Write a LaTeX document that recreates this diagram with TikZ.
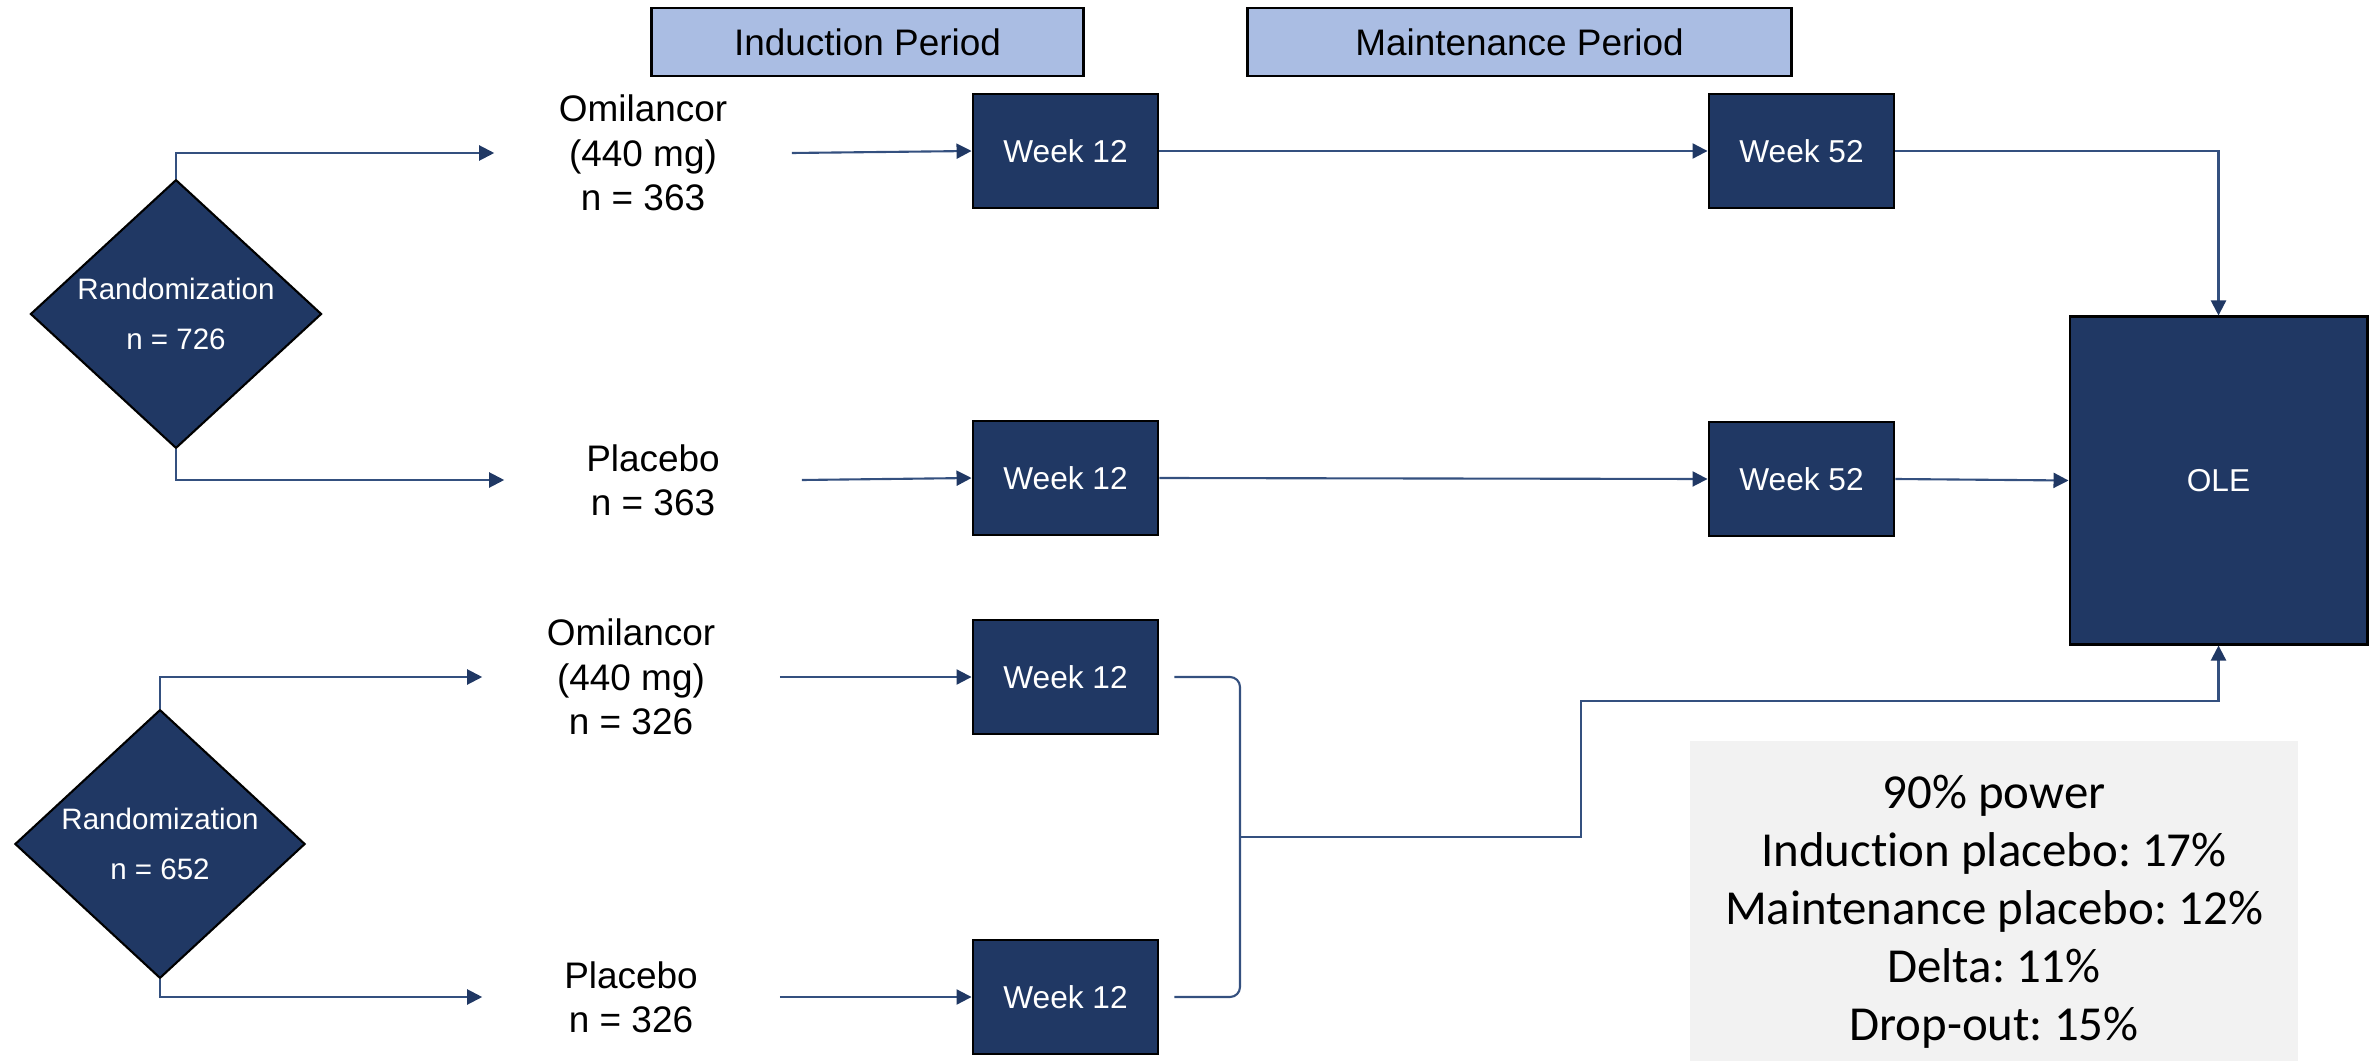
\documentclass[tikz,border=0pt]{standalone}
\usepackage{fontspec}
\setmainfont{Liberation Sans}
\newfontfamily\notefont[Ligatures=NoCommon]{Carlito}
\usepackage{xcolor}
\definecolor{vizNavy}{HTML}{203864}
\definecolor{vizPeriod}{HTML}{AABDE3}
\definecolor{vizLine}{HTML}{34507F}
\definecolor{vizNote}{HTML}{F2F2F2}
\usetikzlibrary{shapes.geometric,arrows.meta}
\frenchspacing

\tikzset{
  period/.style={draw=black, line width=0.8pt, fill=vizPeriod, minimum height=0.68cm,
    inner sep=0, font=\fontsize{10.5}{12.6}\selectfont},
  weekbox/.style={draw=black, line width=0.8pt, fill=vizNavy, text=white,
    minimum width=1.85cm, minimum height=1.14cm, inner sep=0, font=\fontsize{9}{11}\selectfont},
  randbox/.style={diamond, draw=black, line width=0.6pt, fill=vizNavy, text=white, inner sep=0,
    align=center, font=\fontsize{8.4}{14.2}\selectfont},
  arm/.style={minimum width=2.96cm, inner sep=0, align=center, font=\fontsize{10.5}{12.6}\selectfont},
  note/.style={fill=vizNote, minimum width=6.08cm, minimum height=3.42cm, inner sep=0,
    align=center, font=\notefont\fontsize{13.9}{16.5}\selectfont},
  link/.style={draw=vizLine, line width=0.6pt},
  arr/.style={link, -{Triangle[length=0.15cm,width=0.15cm,color=vizNavy]}}
}

\begin{document}
\begin{tikzpicture}[x=0.01cm, y=-0.01cm]
  \useasboundingbox (0,0) rectangle (2376,1061);
  % period headers
  \node[period, minimum width=4.31cm] (ind) at (867.5,42) {Induction Period};
  \node[period, minimum width=5.43cm] (maint) at (1519.5,42) {Maintenance Period};
  % randomizations
  \node[randbox, minimum width=2.91cm, minimum height=2.61cm] (rand1) at (176,314) {Randomization\\n = 726};
  \node[randbox, minimum width=2.90cm, minimum height=2.66cm] (rand2) at (160,844) {Randomization\\n = 652};
  % arms
  \node[arm] (omi1) at (643,153) {Omilancor\\(440 mg)\\n = 363};
  \node[arm] (pla1) at (653,480) {Placebo\\n = 363};
  \node[arm] (omi2) at (631,677) {Omilancor\\(440 mg)\\n = 326};
  \node[arm] (pla2) at (631,997) {Placebo\\n = 326};
  % visits
  \node[weekbox] (wk1) at (1065.5,151) {Week 12};
  \node[weekbox] (wk2) at (1065.5,478) {Week 12};
  \node[weekbox] (wk3) at (1065.5,677) {Week 12};
  \node[weekbox] (wk4) at (1065.5,997) {Week 12};
  \node[weekbox] (mt1) at (1801.5,151) {Week 52};
  \node[weekbox] (mt2) at (1801.5,479) {Week 52};
  \node[weekbox, minimum width=2.97cm, minimum height=3.27cm] (ole) at (2218.5,480.5) {OLE};
  % assumptions
  \node[note] (power) at (1994,912) {90\% power\\Induction placebo: 17\%\\Maintenance placebo: 12\%\\Delta: 11\%\\Drop-out: 15\%};

  \draw[arr] (rand1.north) |- (omi1.west);
  \draw[arr] (rand1.south) |- (pla1.west);
  \draw[arr] (rand2.north) |- (omi2.west);
  \draw[arr] (rand2.south) |- (pla2.west);
  \draw[arr] (omi1.east) -- (wk1.west);
  \draw[arr] (pla1.east) -- (wk2.west);
  \draw[arr] (omi2.east) -- (wk3.west);
  \draw[arr] (pla2.east) -- (wk4.west);
  \draw[arr] (wk1.east) -- (mt1.west);
  \draw[arr] (wk2.east) -- (mt2.west);
  \draw[arr] (mt1.east) -| (ole.north);
  \draw[arr] (mt2.east) -- (ole.west);

  % bracket joining the second study
  \coordinate (brk3) at ([xshift=0.15cm]wk3.east);
  \coordinate (brk4) at ([xshift=0.15cm]wk4.east);
  \coordinate (join) at (1240,837);
  \coordinate (elbow) at (1581,701);
  \draw[link, rounded corners=0.1cm] (brk3) -- (brk3 -| join) -- (brk4 -| join) -- (brk4);
  \draw[arr] (join) -| (elbow) -| (ole.south);
\end{tikzpicture}
\end{document}
